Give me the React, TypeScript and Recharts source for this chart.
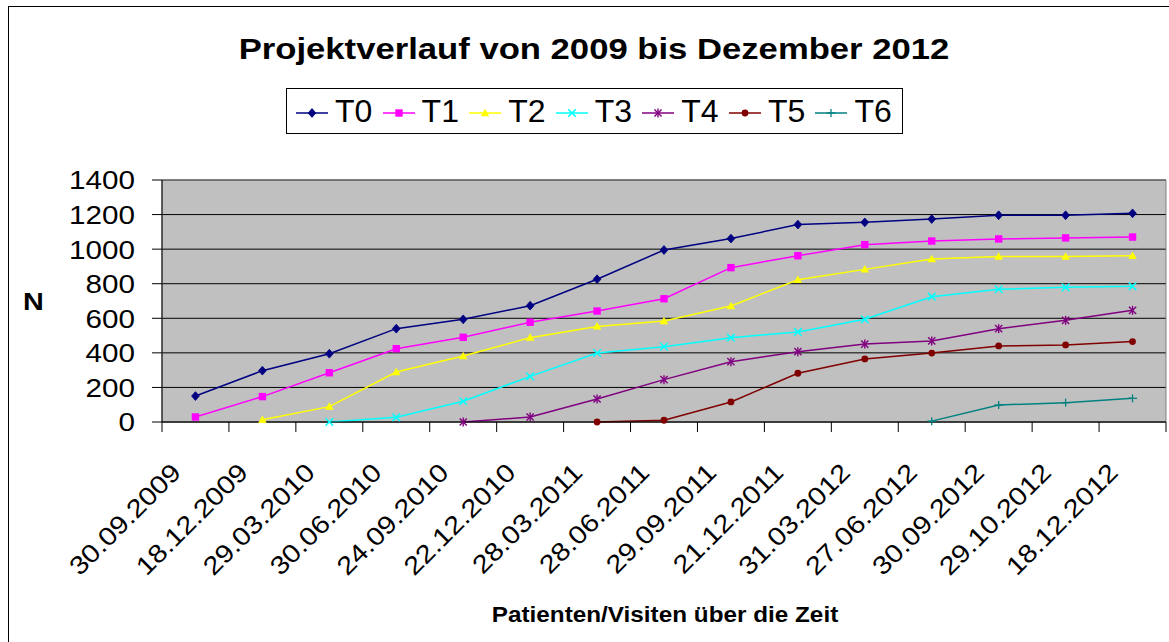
import React from 'react';
import { LineChart, Line, XAxis, YAxis, CartesianGrid, Legend, ReferenceArea } from 'recharts';

const dates = [
  '30.09.2009', '18.12.2009', '29.03.2010', '30.06.2010', '24.09.2010',
  '22.12.2010', '28.03.2011', '28.06.2011', '29.09.2011', '21.12.2011',
  '31.03.2012', '27.06.2012', '30.09.2012', '29.10.2012', '18.12.2012',
];
const T0 = [150, 297, 395, 540, 594, 673, 826, 995, 1061, 1142, 1155, 1174, 1196, 1196, 1207];
const T1 = [29, 147, 285, 424, 490, 577, 642, 713, 893, 962, 1026, 1047, 1059, 1065, 1070];
const T2 = [null, 13, 89, 289, 382, 488, 553, 584, 671, 823, 883, 943, 957, 957, 962];
const T3 = [null, null, 0, 27, 120, 264, 399, 436, 488, 521, 594, 725, 768, 779, 785];
const T4 = [null, null, null, null, 0, 29, 133, 245, 349, 407, 451, 469, 540, 588, 646];
const T5 = [null, null, null, null, null, null, 0, 10, 116, 282, 365, 399, 440, 446, 465];
const T6 = [null, null, null, null, null, null, null, null, null, null, null, 5, 98, 112, 137];
const yTicks = [0, 200, 400, 600, 800, 1000, 1200, 1400];

const seriesNames = ['T0', 'T1', 'T2', 'T3', 'T4', 'T5', 'T6'];
const seriesValues = [T0, T1, T2, T3, T4, T5, T6];
const seriesColors = ['#000080', '#FF00FF', '#FFFF00', '#00FFFF', '#800080', '#800000', '#008080'];
const seriesShapes = ['diamond', 'square', 'triangle', 'x', 'star', 'circle', 'plus'];

const data = dates.map((d, i) => {
  const row: any = { i, date: d };
  seriesNames.forEach((n, s) => { row[n] = seriesValues[s][i]; });
  return row;
});

const xTicks: number[] = [];
for (let k = 0; k < dates.length; k++) { xTicks.push(k - 0.5); xTicks.push(k); }
xTicks.push(dates.length - 0.5);

const FONT = '"Liberation Sans", Arial, sans-serif';

function Marker({ shape, color, cx, cy }: any) {
  const r = 3.9;
  switch (shape) {
    case 'diamond':
      return <polygon points={`${cx},${cy - r - 0.5} ${cx + r},${cy} ${cx},${cy + r + 0.5} ${cx - r},${cy}`} fill={color} stroke={color} strokeWidth={0.8} />;
    case 'square':
      return <rect x={cx - 3.7} y={cy - 3.7} width={7.4} height={7.4} fill={color} />;
    case 'triangle':
      return <polygon points={`${cx},${cy - 4.3} ${cx + 4.3},${cy + 3.2} ${cx - 4.3},${cy + 3.2}`} fill={color} />;
    case 'x':
      return (
        <g stroke={color} strokeWidth={1.5}>
          <line x1={cx - 3.8} y1={cy - 3.8} x2={cx + 3.8} y2={cy + 3.8} />
          <line x1={cx - 3.8} y1={cy + 3.8} x2={cx + 3.8} y2={cy - 3.8} />
        </g>
      );
    case 'star':
      return (
        <g stroke={color} strokeWidth={1.4}>
          <line x1={cx - 3.6} y1={cy - 3.6} x2={cx + 3.6} y2={cy + 3.6} />
          <line x1={cx - 3.6} y1={cy + 3.6} x2={cx + 3.6} y2={cy - 3.6} />
          <line x1={cx} y1={cy - 4.5} x2={cx} y2={cy + 4.5} />
        </g>
      );
    case 'circle':
      return <circle cx={cx} cy={cy} r={3.4} fill={color} />;
    case 'plus':
      return (
        <g stroke={color} strokeWidth={1.3}>
          <line x1={cx - 4.5} y1={cy} x2={cx + 4.5} y2={cy} />
          <line x1={cx} y1={cy - 4} x2={cx} y2={cy + 4} />
        </g>
      );
    default:
      return null;
  }
}

const makeDot = (shape: string, color: string) => (p: any) => {
  const key = `${shape}-${p.index}`;
  if (p.cx == null || p.cy == null || p.value == null || (Array.isArray(p.value) && p.value[1] == null)) {
    return <g key={key} />;
  }
  return <g key={key}><Marker shape={shape} color={color} cx={p.cx} cy={p.cy} /></g>;
};

const XTick = (props: any) => {
  const { x, y, payload } = props;
  const v = payload.value;
  if (!Number.isInteger(v)) {
    return <line x1={x} y1={y} x2={x} y2={y + 10} stroke="#000" strokeWidth={1} />;
  }
  const ax = x - 13;
  const ay = y + 52;
  return (
    <text x={ax} y={ay} textAnchor="end" fontSize={25.5} fontFamily={FONT} fill="#000"
      transform={`rotate(-45 ${ax} ${ay}) translate(${ax} ${ay}) scale(1.14 1) translate(${-ax} ${-ay})`}>
      {dates[v]}
    </text>
  );
};

const YTick = (props: any) => {
  const { x, y, payload } = props;
  return (
    <text x={x} y={y} dy="0.36em" textAnchor="end" fontSize={26} fontFamily={FONT} fill="#000"
      transform={`translate(${x} 0) scale(1.14 1) translate(${-x} 0)`}>
      {payload.value}
    </text>
  );
};

const LegendContent = () => (
  <div style={{ display: 'flex', alignItems: 'center', height: '100%', paddingLeft: 9, boxSizing: 'border-box' }}>
    {seriesNames.map((n, s) => (
      <div key={n} style={{ display: 'flex', alignItems: 'center', width: 88 }}>
        <svg width={32} height={20} style={{ display: 'block', marginTop: 4 }}>
          <line x1={0} y1={10} x2={32} y2={10} stroke={seriesColors[s]} strokeWidth={1.5} />
          <Marker shape={seriesShapes[s]} color={seriesColors[s]} cx={16} cy={10} />
        </svg>
        <span style={{ marginLeft: 7, fontSize: 32, fontFamily: FONT, color: '#000', lineHeight: '32px' }}>{n}</span>
      </div>
    ))}
  </div>
);

export default function App() {
  return (
    <div style={{ position: 'absolute', left: 0, top: 0, width: 1169, height: 642, background: '#fff', overflow: 'hidden' }}>
      <div style={{ position: 'absolute', left: 0, top: 0 }}>
        <LineChart width={1169} height={642} data={data} margin={{ top: 180, right: 3, bottom: 190, left: 0 }}>
          <CartesianGrid vertical={false} stroke="#000" fill="#C0C0C0" fillOpacity={1} />
          <ReferenceArea x1={-0.5} x2={dates.length - 0.5} y1={0} y2={1400} fill="none" stroke="#808080" strokeWidth={1} ifOverflow="visible" />
          <XAxis dataKey="i" type="number" domain={[-0.5, dates.length - 0.5]} ticks={xTicks} interval={0}
            height={30} tickLine={false} tickSize={0} tickMargin={0} axisLine={{ stroke: '#000' }} tick={<XTick />} />
          <YAxis type="number" domain={[0, 1400]} ticks={yTicks} interval={0} width={162}
            tickSize={10} tickMargin={17} tickLine={{ stroke: '#000' }} axisLine={{ stroke: '#000' }} tick={<YTick />} />
          <Legend layout="horizontal" verticalAlign="middle" align="center" content={<LegendContent />}
            wrapperStyle={{ position: 'absolute', left: 286, top: 88, width: 617, height: 46, border: '1px solid #000', background: '#fff', boxSizing: 'border-box' }} />
          {seriesNames.map((n, s) => (
            <Line key={n} dataKey={n} name={n} type="linear" stroke={seriesColors[s]} strokeWidth={1.5}
              dot={makeDot(seriesShapes[s], seriesColors[s])} activeDot={false} connectNulls={false}
              isAnimationActive={false} legendType="none" />
          ))}
        </LineChart>
      </div>
      <svg width={1169} height={642} style={{ position: 'absolute', left: 0, top: 0, pointerEvents: 'none' }}>
        <rect x={8.5} y={6.5} width={1200} height={700} fill="none" stroke="#000" strokeWidth={1} />
        <text x={594} y={59.5} textAnchor="middle" fontSize={29.5} fontWeight="bold" fontFamily={FONT} fill="#000"
          transform="translate(594 0) scale(1.175 1) translate(-594 0)">
          Projektverlauf von 2009 bis Dezember 2012
        </text>
        <text x={33.5} y={310} textAnchor="middle" fontSize={24} fontWeight="bold" fontFamily={FONT} fill="#000"
          transform="translate(33.5 0) scale(1.2 1) translate(-33.5 0)">N</text>
        <text x={665} y={622} textAnchor="middle" fontSize={21.5} fontWeight="bold" fontFamily={FONT} fill="#000"
          transform="translate(665 0) scale(1.13 1) translate(-665 0)">
          Patienten/Visiten über die Zeit
        </text>
      </svg>
    </div>
  );
}
